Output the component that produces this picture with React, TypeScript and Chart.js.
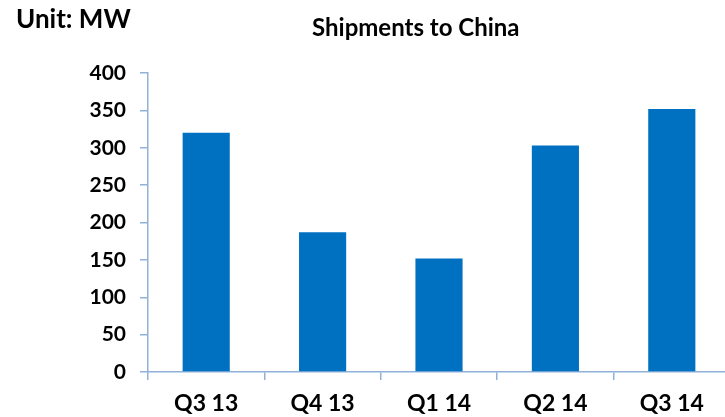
import React, { useEffect, useRef } from "react";
import { Chart, registerables } from "chart.js";

Chart.register(...registerables);

const categories: string[] = ["Q3 13", "Q4 13", "Q1 14", "Q2 14", "Q3 14"];
const shipments: number[] = [320, 187, 152, 303, 352];
const yMin = 0;
const yMax = 400;
const yStep = 50;
const chartTitle = "Shipments to China";
const unitLabel = "Unit: MW";

const FONT = "Lato, 'Open Sans', sans-serif";
const AXIS_COLOR = "#8FB1DA";
const BAR_COLOR = "#0070C0";

export default function App() {
  const canvasRef = useRef<HTMLCanvasElement | null>(null);

  useEffect(() => {
    const canvas = canvasRef.current;
    if (!canvas) return;
    const chart = new Chart(canvas, {
      type: "bar",
      data: {
        labels: categories,
        datasets: [
          {
            label: chartTitle,
            data: shipments,
            backgroundColor: BAR_COLOR,
            borderWidth: 0,
            barPercentage: 0.405,
            categoryPercentage: 1,
          },
        ],
      },
      options: {
        responsive: false,
        animation: false,
        layout: { padding: { left: 0, right: 0, top: 73, bottom: 0 } },
        plugins: {
          legend: { display: false },
          tooltip: { enabled: false },
          title: { display: false },
        },
        scales: {
          x: {
            offset: true,
            grid: {
              offset: true,
              drawOnChartArea: false,
              drawTicks: true,
              tickLength: 8,
              color: AXIS_COLOR,
              lineWidth: 1.5,
            },
            border: { display: true, color: AXIS_COLOR, width: 1.5 },
            ticks: {
              color: "#000",
              font: { family: FONT, size: 23, weight: "bold" },
              padding: 10,
              maxRotation: 0,
            },
            afterFit: (s: any) => {
              s.height = 45;
            },
          },
          y: {
            min: yMin,
            max: yMax,
            grid: {
              drawOnChartArea: false,
              drawTicks: true,
              tickLength: 8,
              color: AXIS_COLOR,
              lineWidth: 1.5,
            },
            border: { display: true, color: AXIS_COLOR, width: 1.5 },
            ticks: {
              stepSize: yStep,
              color: "#000",
              font: { family: FONT, size: 21, weight: "bold" },
              padding: 14,
            },
            afterFit: (s: any) => {
              s.width = 148;
            },
          },
        },
      },
    });
    return () => chart.destroy();
  }, []);

  return (
    <div
      style={{
        position: "absolute",
        left: 0,
        top: 0,
        width: 725,
        height: 417,
        overflow: "hidden",
        background: "#fff",
      }}
    >
      <canvas
        ref={canvasRef}
        width={730}
        height={417}
        style={{ position: "absolute", left: 0, top: 0, width: 730, height: 417 }}
      />
      <div
        style={{
          position: "absolute",
          left: 16,
          top: 2,
          fontFamily: FONT,
          fontWeight: "bold",
          fontSize: 26,
          color: "#000",
          lineHeight: "32px",
          whiteSpace: "nowrap",
        }}
      >
        {unitLabel}
      </div>
      <div
        style={{
          position: "absolute",
          left: 312,
          width: 200,
          top: 12,
          textAlign: "center",
          fontFamily: FONT,
          fontWeight: "bold",
          fontSize: 24,
          color: "#000",
          lineHeight: "30px",
          whiteSpace: "nowrap",
        }}
      >
        {chartTitle}
      </div>
    </div>
  );
}
